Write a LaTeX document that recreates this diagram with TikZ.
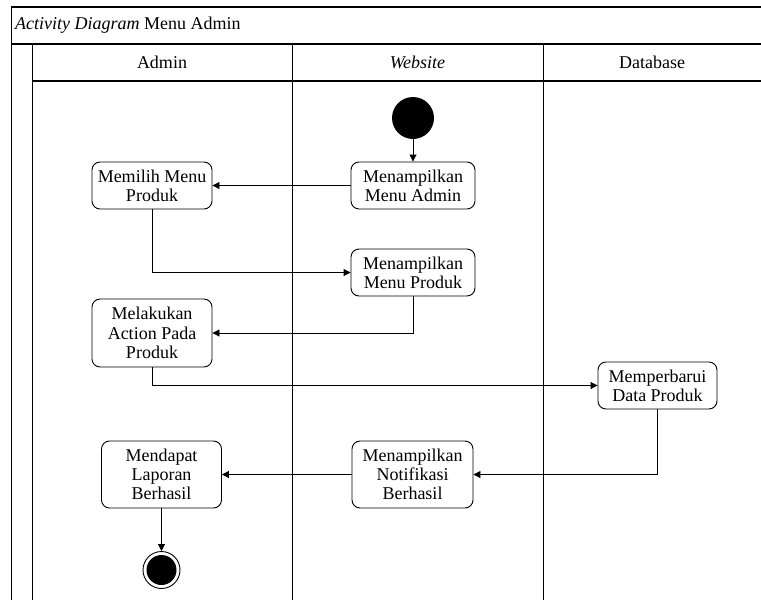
\documentclass[tikz,border=0pt]{standalone}
\usepackage{fontspec}
\setmainfont{Liberation Serif}
\usetikzlibrary{arrows.meta}
\tikzset{
  frame/.style={line width=1.1pt},
  act/.style={draw, line width=0.9pt, rounded corners=8pt, align=center,
    font=\fontsize{18}{19.3}\selectfont, inner sep=0pt},
  flow/.style={line width=0.9pt, -{Triangle[length=7pt,width=7pt]}},
  lanetitle/.style={font=\fontsize{18}{19.3}\selectfont, anchor=center}
}
\begin{document}
\begin{tikzpicture}[x=1pt,y=-1pt]
\useasboundingbox (0,0) rectangle (761,600);
\fill[white] (0,0) rectangle (761,600);
% swimlane frame
\begin{scope}
\clip (0,0) rectangle (761,600);
\draw[frame] (11.5,610) -- (11.5,7) -- (770,7);
\draw[frame] (11.5,44) -- (770,44);
\draw[frame] (32.5,610) -- (32.5,44);
\draw[frame] (32.5,81) -- (770,81);
\draw[frame] (292.5,44) -- (292.5,610);
\draw[frame] (543.5,44) -- (543.5,610);
\end{scope}
% titles
\node[anchor=west, inner sep=0pt, font=\fontsize{18}{19.3}\selectfont] (title) at (15,25.5) {\textit{Activity Diagram} Menu Admin};
\node[lanetitle] (laneA) at (162,62.5) {Admin};
\node[lanetitle] (laneW) at (417.5,62.5) {\textit{Website}};
\node[lanetitle] (laneD) at (652,62.5) {Database};
% start node
\node[circle, fill=black, minimum size=42pt, inner sep=0pt] (start) at (413,118) {};
% activities
\node[act, minimum width=124pt, minimum height=47pt] (mAdmin) at (413,185.5) {Menampilkan\\Menu Admin};
\node[act, minimum width=120pt, minimum height=47pt] (pilih) at (152,185.5) {Memilih Menu\\Produk};
\node[act, minimum width=124pt, minimum height=47pt] (mProduk) at (413,272.5) {Menampilkan\\Menu Produk};
\node[act, minimum width=120pt, minimum height=68pt] (action) at (152,333) {Melakukan\\Action Pada\\Produk};
\node[act, minimum width=119pt, minimum height=47pt] (update) at (657.5,385.5) {Memperbarui\\Data Produk};
\node[act, minimum width=121pt, minimum height=67pt] (notif) at (412.5,474.5) {Menampilkan\\Notifikasi\\Berhasil};
\node[act, minimum width=120pt, minimum height=67pt] (lapor) at (161.5,474.5) {Mendapat\\Laporan\\Berhasil};
% end node
\node[circle, draw, line width=0.9pt, minimum size=37pt, inner sep=0pt] (end) at (161.5,570) {};
\node[circle, fill=black, minimum size=30pt, inner sep=0pt] (endin) at (end.center) {};
% flows
\draw[flow] (start) -- (mAdmin);
\draw[flow] (mAdmin) -- (pilih);
\draw[flow] (pilih.south) |- (mProduk.west);
\draw[flow] (mProduk.south) |- (action.east);
\draw[flow] (action.south) |- (update.west);
\draw[flow] (update.south) |- (notif.east);
\draw[flow] (notif) -- (lapor);
\draw[flow] (lapor) -- (end);
\end{tikzpicture}
\end{document}
